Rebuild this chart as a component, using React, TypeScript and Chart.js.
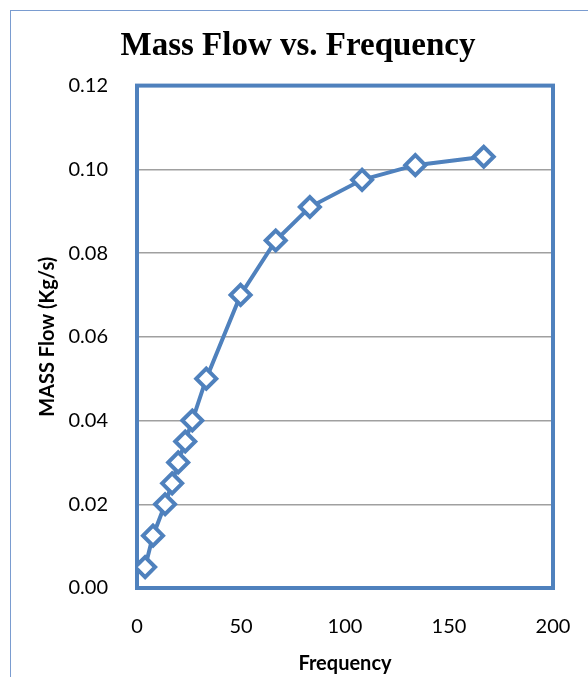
import React, { useEffect, useRef } from "react";
import { Chart, registerables } from "chart.js";

Chart.register(...registerables);

const frequency = [3.9, 7.7, 13.5, 16.9, 19.8, 23.2, 26.6, 33.3, 49.8, 66.7, 83.1, 108.2, 133.8, 166.7];
const massFlow = [0.005, 0.0125, 0.02, 0.025, 0.03, 0.035, 0.04, 0.05, 0.07, 0.083, 0.091, 0.0975, 0.101, 0.103];
const xTicks = [0, 50, 100, 150, 200];
const yTicks = [0, 0.02, 0.04, 0.06, 0.08, 0.1, 0.12];

const BLUE = "#4F81BD";

const plotBorder = {
  id: "plotBorder",
  beforeDatasetsDraw(chart: any) {
    const { ctx, chartArea } = chart;
    ctx.save();
    ctx.strokeStyle = BLUE;
    ctx.lineWidth = 4;
    ctx.strokeRect(chartArea.left, chartArea.top, chartArea.right - chartArea.left, chartArea.bottom - chartArea.top);
    ctx.restore();
  },
};

export default function App() {
  const ref = useRef<HTMLCanvasElement>(null);
  useEffect(() => {
    document.body.style.margin = "0";
    const chart = new Chart(ref.current!, {
      type: "line",
      data: {
        datasets: [
          {
            data: frequency.map((f, i) => ({ x: f, y: massFlow[i] })),
            borderColor: BLUE,
            borderWidth: 4,
            backgroundColor: "#FFFFFF",
            pointStyle: "rectRot",
            pointRadius: 10,
            pointBorderWidth: 4,
            pointBorderColor: BLUE,
            pointBackgroundColor: "#FFFFFF",
            tension: 0,
          },
        ],
      },
      options: {
        animation: false,
        responsive: false,
        maintainAspectRatio: false,
        layout: { padding: { left: 43, right: 35, top: 0, bottom: 1 } },
        plugins: {
          legend: { display: false },
          tooltip: { enabled: false },
          title: {
            display: true,
            text: "Mass Flow vs. Frequency",
            color: "#000",
            font: { family: "Liberation Serif", size: 33, weight: "bold" },
            padding: { top: 27, bottom: 19 },
          },
        },
        scales: {
          x: {
            type: "linear",
            min: 0,
            max: 200,
            afterBuildTicks: (s: any) => {
              s.ticks = xTicks.map((v) => ({ value: v }));
            },
            afterFit: (s: any) => {
              s.height = 88;
              s.paddingLeft = 0;
              s.paddingRight = 0;
            },
            grid: { display: false, drawTicks: false },
            border: { display: false },
            ticks: {
              color: "#000",
              font: { family: "Lato", size: 20 },
              padding: 27,
              maxRotation: 0,
            },
            title: {
              display: true,
              text: "Frequency",
              color: "#000",
              font: { family: "Lato", size: 20, weight: "bold" },
              padding: { top: 14, bottom: 0 },
            },
          },
          y: {
            type: "linear",
            min: 0,
            max: 0.12,
            afterBuildTicks: (s: any) => {
              s.ticks = yTicks.map((v) => ({ value: v }));
            },
            afterFit: (s: any) => {
              s.width = 94;
            },
            grid: { color: "#A0A0A0", lineWidth: 1.5, drawTicks: false },
            border: { display: false },
            ticks: {
              color: "#000",
              font: { family: "Lato", size: 20 },
              padding: 29,
              callback: (v: any) => Number(v).toFixed(2),
            },
            title: {
              display: true,
              text: "MASS Flow (Kg/s)",
              color: "#000",
              font: { family: "Lato", size: 20, weight: "bold" },
              padding: { top: -7, bottom: 0 },
            },
          },
        },
      },
      plugins: [plotBorder],
    } as any);
    return () => chart.destroy();
  }, []);

  return (
    <div style={{ position: "relative", width: 588, height: 677, overflow: "hidden", background: "#fff" }}>
      <div
        style={{
          position: "absolute",
          left: 10,
          top: 10,
          width: 700,
          height: 800,
          border: "1px solid #7A9CD0",
          boxSizing: "border-box",
        }}
      />
      <canvas ref={ref} width={588} height={677} style={{ position: "absolute", left: 0, top: 0 }} />
    </div>
  );
}
